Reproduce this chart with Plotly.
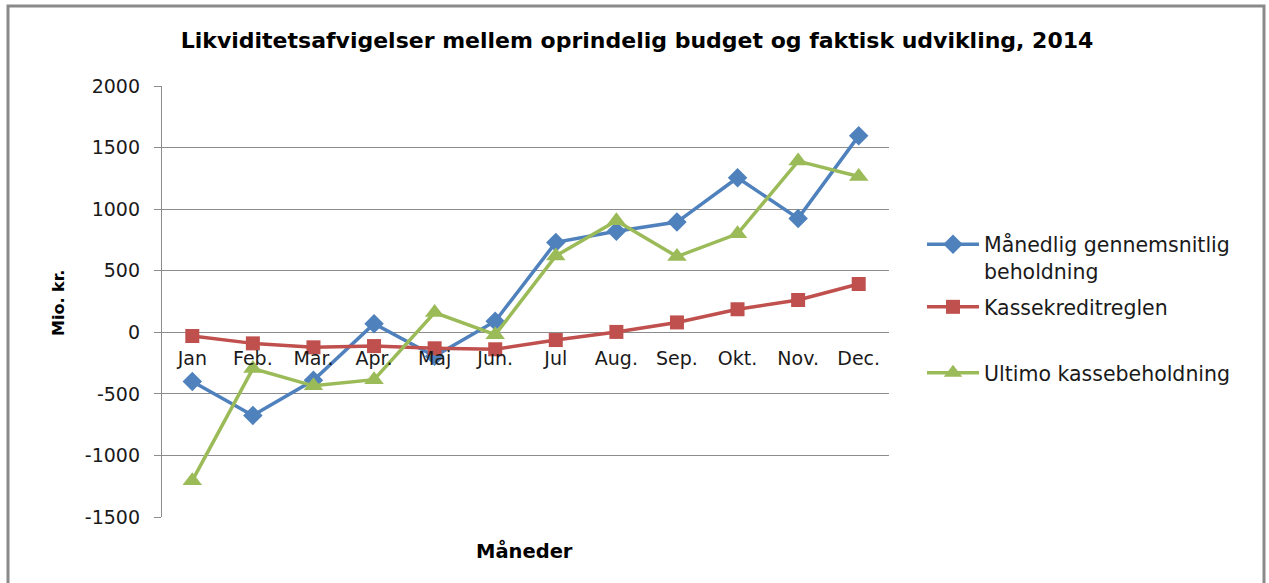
import plotly.graph_objects as go

months = ["Jan", "Feb.", "Mar.", "Apr.", "Maj", "Jun.", "Jul", "Aug.", "Sep.", "Okt.", "Nov.", "Dec."]
maanedlig = [-400, -675, -390, 70, -195, 90, 730, 820, 895, 1255, 925, 1595]
kassekredit = [-30, -90, -122, -112, -130, -138, -63, 3, 80, 187, 262, 392]
ultimo = [-1205, -295, -435, -385, 160, -20, 620, 905, 615, 800, 1390, 1265]
y_ticks = [-1500, -1000, -500, 0, 500, 1000, 1500, 2000]
y_tick_labels = ["-1500", "-1000", "-500", "0", "500", "1000", "1500", "2000"]

FONT = "DejaVu Sans"
W, H = 1269, 583
L, R, T, B = 162, 889, 86, 517

fig = go.Figure()

series = [
    ("Månedlig gennemsnitlig<br>beholdning", maanedlig, "#4F81BD", "diamond", 15, "legend"),
    ("Kassekreditreglen", kassekredit, "#C0504D", "square", 14, "legend2"),
    ("Ultimo kassebeholdning", ultimo, "#9BBB59", "triangle-up", 17, "legend3"),
]
for name, vals, col, sym, size, lg in series:
    fig.add_trace(go.Scatter(
        x=months, y=vals, name=name, mode="lines+markers",
        line=dict(color=col, width=3.5),
        marker=dict(symbol=sym, size=size, color=col),
        legend=lg,
    ))

def px_x(p):
    return (p - L) / (R - L)

def px_y(p):
    return (B - p) / (B - T)

leg_common = dict(
    xref="paper", yref="paper", xanchor="left", yanchor="middle",
    font=dict(family=FONT, size=20.5, color="#1a1a1a"),
    itemwidth=52, bgcolor="rgba(0,0,0,0)", valign="top",
)

fig.update_layout(
    width=W, height=H,
    margin=dict(l=L, r=W - R, t=T, b=H - B),
    paper_bgcolor="white", plot_bgcolor="white",
    showlegend=True,
    title=dict(
        text="<b>Likviditetsafvigelser mellem oprindelig budget og faktisk udvikling, 2014</b>",
        x=0.502, xanchor="center", y=1 - 40 / H, yanchor="middle",
        font=dict(family=FONT, size=22, color="black"),
    ),
    xaxis=dict(
        type="category", anchor="free", position=1500 / 3500,
        showline=False, showgrid=False, ticks="", zeroline=False,
        ticklabelstandoff=13,
        tickfont=dict(family=FONT, size=19, color="#1a1a1a"),
        range=[-0.5, 11.5],
    ),
    yaxis=dict(
        range=[-1500, 2000], tickvals=y_ticks, ticktext=y_tick_labels,
        showgrid=True, gridcolor="#8c8c8c", gridwidth=1.3,
        showline=True, linecolor="#8c8c8c", linewidth=1.3,
        ticks="outside", ticklen=7, tickcolor="#8c8c8c", tickwidth=1.3,
        zeroline=False,
        tickfont=dict(family=FONT, size=19, color="#1a1a1a"),
        ticklabelstandoff=10,
    ),
    legend=dict(x=px_x(922), y=px_y(258), **leg_common),
    legend2=dict(x=px_x(922), y=px_y(307), **leg_common),
    legend3=dict(x=px_x(922), y=px_y(373), **leg_common),
    annotations=[
        dict(text="<b>Måneder</b>", xref="paper", yref="paper",
             x=px_x(524), y=px_y(551), xanchor="center", yanchor="middle",
             showarrow=False, font=dict(family=FONT, size=19.5, color="black")),
        dict(text="<b>Mio. kr.</b>", xref="paper", yref="paper",
             x=px_x(58), y=px_y(303), xanchor="center", yanchor="middle",
             textangle=-90, showarrow=False,
             font=dict(family=FONT, size=16, color="black")),
    ],
    shapes=[
        dict(type="rect", xref="paper", yref="paper",
             x0=px_x(8), x1=px_x(1264), y0=px_y(620), y1=px_y(6),
             line=dict(color="#8a8a8a", width=3), fillcolor="rgba(0,0,0,0)",
             layer="above"),
    ],
)

fig.write_html("out.html", config={"displayModeBar": False},
               post_script="document.body.style.margin='0';")
